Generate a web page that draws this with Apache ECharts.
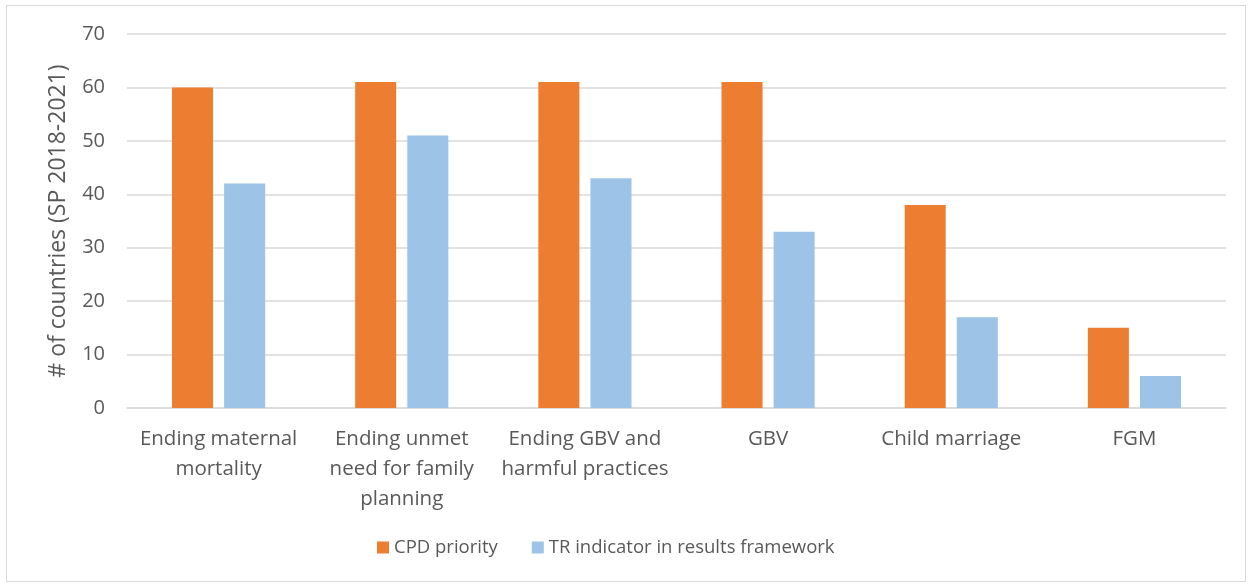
<!DOCTYPE html>
<html><head><meta charset="utf-8">
<script src="https://cdn.jsdelivr.net/npm/echarts@6/dist/echarts.min.js"></script>
<style>
html,body{margin:0;padding:0;background:#fff;}
#frame{position:absolute;left:6px;top:5px;width:1240px;height:577px;border:1px solid #d9d9d9;box-sizing:border-box;}
#c{position:absolute;left:0;top:0;width:1250px;height:586px;}
</style></head>
<body>
<div id="frame"></div>
<div id="c"></div>
<script>
const categories = ["Ending maternal\nmortality", "Ending unmet\nneed for family\nplanning", "Ending GBV and\nharmful practices", "GBV", "Child marriage", "FGM"];
const seriesNames = ["CPD priority", "TR indicator in results framework"];
const cpdPriority = [60, 61, 61, 61, 38, 15];
const trIndicator = [42, 51, 43, 33, 17, 6];
const yAxisName = "# of countries (SP 2018-2021)";

const FONT = "'Open Sans', 'Liberation Sans', sans-serif";
const chart = echarts.init(document.getElementById('c'), null, {renderer: 'canvas'});
chart.setOption({
  animation: false,
  textStyle: {fontFamily: FONT, color: '#595959'},
  grid: {left: 127, right: 24, top: 34, bottom: 178},
  legend: {
    bottom: 24, left: 372, itemWidth: 12, itemHeight: 12, itemGap: 34,
    icon: 'rect',
    textStyle: {fontSize: 18.5, color: '#595959', fontFamily: FONT},
    data: seriesNames
  },
  xAxis: {
    type: 'category', data: categories,
    axisLine: {lineStyle: {color: '#d9d9d9', width: 1.5}},
    axisTick: {show: false},
    axisLabel: {fontSize: 20.5, color: '#595959', lineHeight: 30, margin: 16, interval: 0, fontFamily: FONT}
  },
  yAxis: {
    type: 'value', min: 0, max: 70, interval: 10,
    name: yAxisName, nameLocation: 'middle', nameGap: 57, nameRotate: 90,
    nameTextStyle: {fontSize: 23, color: '#595959', fontFamily: FONT},
    axisLine: {show: false}, axisTick: {show: false},
    axisLabel: {fontSize: 20, color: '#595959', margin: 22, fontFamily: FONT},
    splitLine: {lineStyle: {color: '#d9d9d9', width: 1.5}}
  },
  series: [
    {name: seriesNames[0], type: 'bar', data: cpdPriority, barWidth: '22.4%', barGap: '27%',
     itemStyle: {color: '#ED7D31'}},
    {name: seriesNames[1], type: 'bar', data: trIndicator, barWidth: '22.4%', barGap: '27%',
     itemStyle: {color: '#9DC3E6'}}
  ]
});
</script>
</body></html>
